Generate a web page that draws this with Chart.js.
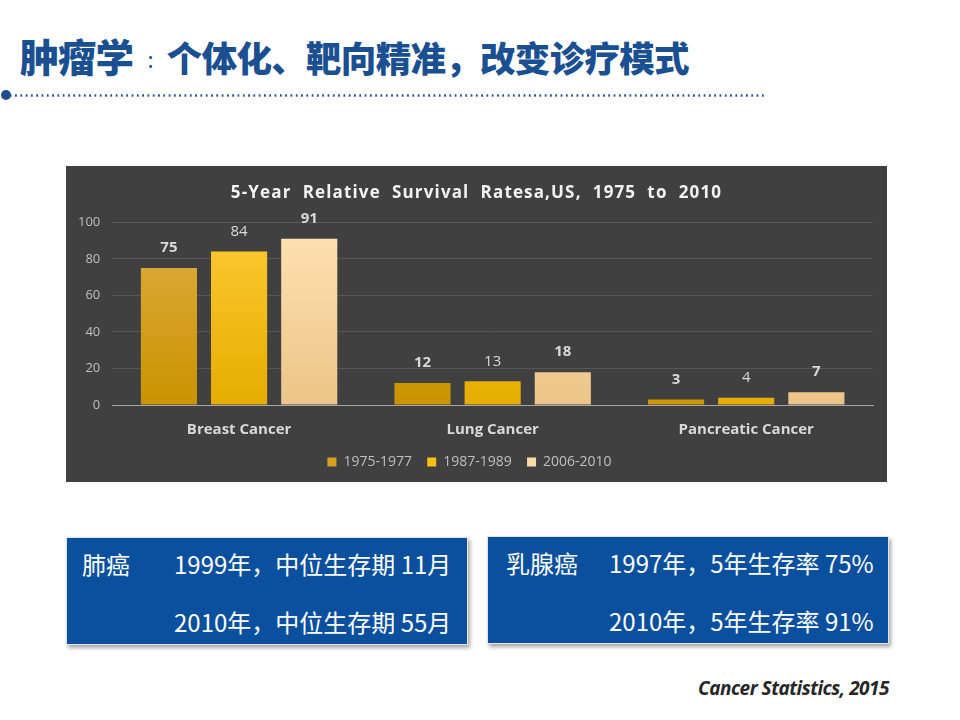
<!DOCTYPE html>
<html>
<head>
<meta charset="utf-8">
<script src="https://cdn.jsdelivr.net/npm/chart.js@4.4.1/dist/chart.umd.min.js"></script>
<style>
  html,body{margin:0;padding:0;background:#fff;width:960px;height:720px;overflow:hidden;font-family:"Noto Sans CJK SC","Noto Sans",sans-serif;}
  #title{position:absolute;left:20px;top:30px;font-size:35.5px;font-weight:900;color:#1a4f91;letter-spacing:-0.7px;white-space:nowrap;line-height:50px;}
  #title .big{font-size:38.5px;}
  #title .colon{font-size:22px;font-weight:400;color:#1a4f91;margin:0 14px 0 14px;position:relative;top:-4px;}
  #dots{position:absolute;left:8px;top:94px;width:758px;height:3px;
    background-image:radial-gradient(circle,#1f4e8c 1px,transparent 1.3px);background-size:5.3px 3px;background-repeat:repeat-x;}
  #dotc{position:absolute;left:1px;top:90px;width:10px;height:10px;border-radius:50%;background:#1f4e8c;}
  #chartbox{position:absolute;left:66px;top:166px;width:821px;height:316px;background:#404040;}
  .box{position:absolute;background:#0a509e;color:#fff;box-shadow:2px 3px 4px rgba(0,0,0,0.35);border:1px solid #dfe6ee;}
  .box div{position:absolute;font-size:24px;white-space:nowrap;line-height:30px;}
  #src{position:absolute;right:71px;top:675px;font-family:"Open Sans",sans-serif;font-style:italic;font-weight:700;font-size:19px;color:#262626;letter-spacing:-0.5px;}
</style>
</head>
<body>
<div id="title"><span class="big">肿瘤学</span><span class="colon">:</span>个体化、靶向精准，改变诊疗模式</div>
<div id="dotc"></div><div id="dots"></div>
<div id="chartbox"><canvas id="c" width="821" height="316"></canvas></div>

<div class="box" style="left:66px;top:537px;width:400px;height:106px;">
  <div style="left:15px;top:11px;">肺癌</div>
  <div style="left:107px;top:11px;">1999年，中位生存期 11月</div>
  <div style="left:107px;top:69px;">2010年，中位生存期 55月</div>
</div>
<div class="box" style="left:487px;top:536px;width:400px;height:106px;">
  <div style="left:18px;top:11px;">乳腺癌</div>
  <div style="left:121px;top:11px;">1997年，5年生存率 75%</div>
  <div style="left:121px;top:69px;">2010年，5年生存率 91%</div>
</div>
<div id="src">Cancer Statistics, 2015</div>

<script>
const categories = ["Breast Cancer", "Lung Cancer", "Pancreatic Cancer"];
const seriesNames = ["1975-1977", "1987-1989", "2006-2010"];
const s1975 = [75, 12, 3];
const s1987 = [84, 13, 4];
const s2006 = [91, 18, 7];
const yTicks = [0, 20, 40, 60, 80, 100];
const chartTitle = '5-Year  Relative  Survival  Ratesa,US,  1975  to  2010';

const gradStops = [
  ["#dfae42", "#c99300"],
  ["#ffca33", "#e5ad00"],
  ["#ffe3b4", "#ecc488"]
];
const legendColors = ["#d4a21c", "#f7be14", "#fbdaa6"];
const labelBold = ["bold", "normal", "bold"];

function grad(i){
  return function(ctx){
    const ch = ctx.chart; const a = ch.chartArea;
    if(!a) return gradStops[i][1];
    const g = ch.ctx.createLinearGradient(0, a.top, 0, a.bottom);
    g.addColorStop(0, gradStops[i][0]);
    g.addColorStop(1, gradStops[i][1]);
    return g;
  };
}

const labelPlugin = {
  id: 'vlabels',
  afterDatasetsDraw(chart){
    const ctx = chart.ctx;
    chart.data.datasets.forEach((ds, di) => {
      const meta = chart.getDatasetMeta(di);
      meta.data.forEach((bar, i) => {
        ctx.save();
        ctx.fillStyle = '#d9d9d9';
        ctx.textAlign = 'center';
        ctx.textBaseline = 'middle';
        ctx.font = (labelBold[di] === 'bold' ? 'bold 15px "Open Sans"' : '15px "Open Sans"');
        ctx.fillText(String(ds.data[i]), bar.x, bar.y - 20);
        ctx.restore();
      });
    });
  }
};

// draws the title with letter spacing in the space reserved by the (transparent) built-in title
const titlePlugin = {
  id: 'spacedTitle',
  afterDraw(chart){
    const t = chart.titleBlock;
    if(!t) return;
    const ctx = chart.ctx;
    ctx.save();
    ctx.font = 'bold 17px "Open Sans"';
    ctx.fillStyle = '#f2f2f2';
    ctx.textAlign = 'center';
    ctx.textBaseline = 'middle';
    if ('letterSpacing' in ctx) ctx.letterSpacing = '1.15px';
    ctx.fillText(chartTitle, chart.width / 2 + 0, t.top + t.height / 2 - 1);
    ctx.restore();
  }
};

const values = [s1975, s1987, s2006];
new Chart(document.getElementById('c'), {
  type: 'bar',
  data: {
    labels: categories,
    datasets: seriesNames.map((n, i) => ({
      label: n,
      data: values[i],
      backgroundColor: grad(i),
      borderWidth: 0,
      categoryPercentage: 0.83,
      barPercentage: 0.8
    }))
  },
  options: {
    responsive: false,
    animation: false,
    devicePixelRatio: 1,
    layout: { padding: { left: 0, right: 14, top: 0, bottom: 3 } },
    plugins: {
      title: {
        display: true,
        text: chartTitle,
        color: 'rgba(0,0,0,0)',
        font: { family: 'Open Sans', size: 17, weight: 'bold' },
        padding: { top: 15, bottom: 21 }
      },
      legend: {
        position: 'bottom',
        labels: {
          color: '#bfbfbf',
          font: { family: 'Open Sans', size: 14 },
          boxWidth: 9, boxHeight: 9, padding: 8,
          generateLabels(chart){
            return seriesNames.map((n, i) => ({
              text: i < seriesNames.length - 1 ? n + '  ' : n,
              fillStyle: legendColors[i], strokeStyle: legendColors[i],
              lineWidth: 0, datasetIndex: i, fontColor: '#bfbfbf'
            }));
          }
        }
      },
      tooltip: { enabled: false }
    },
    scales: {
      x: {
        grid: { display: false },
        border: { color: '#a6a6a6', width: 1 },
        ticks: { color: '#d9d9d9', font: { family: 'Open Sans', size: 15, weight: 'bold' }, padding: 8 }
      },
      y: {
        min: 0, max: 100,
        afterBuildTicks(axis){ axis.ticks = yTicks.map(v => ({ value: v })); },
        grid: { color: '#575757', drawTicks: false },
        border: { display: false },
        ticks: { color: '#bfbfbf', font: { family: 'Open Sans', size: 13 }, padding: 12 }
      }
    }
  },
  plugins: [labelPlugin, titlePlugin]
});
</script>
</body>
</html>
